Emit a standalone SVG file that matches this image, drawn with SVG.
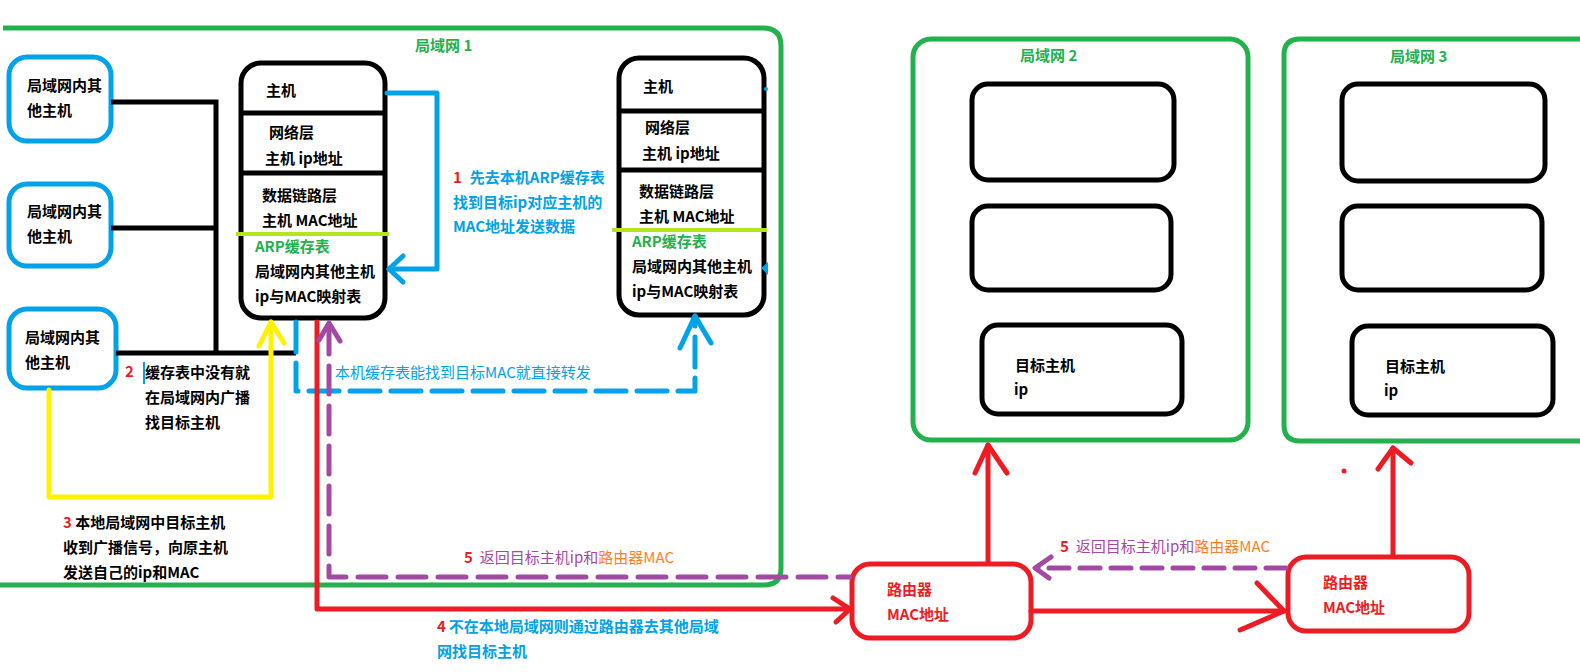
<svg xmlns="http://www.w3.org/2000/svg" width="1580" height="672" viewBox="0 0 1580 672">
<style>
text{font-family:"Noto Sans CJK SC","Microsoft YaHei",sans-serif;font-size:15px;font-weight:bold;fill:#000}
.g{fill:#22b14c}.b{fill:#00a2e8}.r{fill:#ed1c24}.p{fill:#a349a4}.o{fill:#ff7f27}.n{font-weight:normal}
.lan{fill:none;stroke:#22b14c;stroke-width:5}
.bl{fill:#fff;stroke:#000;stroke-width:5}
.blue{fill:#fff;stroke:#00a2e8;stroke-width:5}
.rt{fill:#fff;stroke:#ed1c24;stroke-width:5}
.k{fill:none;stroke:#000;stroke-width:5}
.c{fill:none;stroke-width:5;stroke-linecap:round;stroke-linejoin:round}
</style>
<rect width="1580" height="672" fill="#fff"/>
<g id="lan1">
<path class="lan" d="M3 28 H763 Q781 28 781 46 V568 Q781 585 764 585 H0"/>
<text class="g" x="415" y="51">局域网 1</text>
</g>
<g id="lan2">
<rect class="lan" x="913" y="39" width="335" height="401" rx="18"/>
<text class="g" x="1020" y="61">局域网 2</text>
<rect class="bl" x="972" y="84" width="202" height="96" rx="16"/>
<rect class="bl" x="972" y="206" width="199" height="84" rx="16"/>
<rect class="bl" x="982" y="325" width="200" height="89" rx="16"/>
<text x="1015" y="371">目标主机</text>
<text x="1014" y="395">ip</text>
</g>
<g id="lan3">
<path class="lan" d="M1600 39 H1300 Q1284 39 1284 55 V425 Q1284 441 1300 441 H1600"/>
<text class="g" x="1390" y="62">局域网 3</text>
<rect class="bl" x="1342" y="84" width="203" height="97" rx="16"/>
<rect class="bl" x="1342" y="206" width="200" height="84" rx="16"/>
<rect class="bl" x="1352" y="326" width="201" height="89" rx="16"/>
<text x="1385" y="372">目标主机</text>
<text x="1384" y="396">ip</text>
</g>
<g id="other1">
<rect class="blue" x="9" y="57" width="102" height="84" rx="18"/>
<text x="27" y="91">局域网内其</text>
<text x="27" y="116">他主机</text>
</g>
<g id="other2">
<rect class="blue" x="9" y="184" width="102" height="82" rx="18"/>
<text x="27" y="217">局域网内其</text>
<text x="27" y="242">他主机</text>
</g>
<g id="other3">
<rect class="blue" x="9" y="309" width="107" height="79" rx="18"/>
<text x="25" y="343">局域网内其</text>
<text x="25" y="368">他主机</text>
</g>
<g id="host1">
<rect class="bl" x="241" y="63" width="144" height="255" rx="20"/>
<line class="k" x1="241" y1="113" x2="385" y2="113"/>
<line class="k" x1="241" y1="173" x2="385" y2="173"/>
<line x1="236" y1="234" x2="389" y2="234" stroke="#b5e61d" stroke-width="4"/>
<text x="266" y="96">主机</text>
<text x="269" y="138">网络层</text>
<text x="265" y="164">主机 ip地址</text>
<text x="262" y="201">数据链路层</text>
<text x="262" y="226">主机 MAC地址</text>
<text class="g" x="255" y="252">ARP缓存表</text>
<text x="255" y="277">局域网内其他主机</text>
<text x="255" y="302">ip与MAC映射表</text>
</g>
<g id="host2">
<rect class="bl" x="619" y="58" width="145" height="257" rx="20"/>
<line class="k" x1="619" y1="111" x2="764" y2="111"/>
<line class="k" x1="619" y1="170" x2="764" y2="170"/>
<line x1="612" y1="230" x2="767" y2="230" stroke="#b5e61d" stroke-width="4"/>
<text x="643" y="92">主机</text>
<text x="645" y="133">网络层</text>
<text x="642" y="159">主机 ip地址</text>
<text x="639" y="197">数据链路层</text>
<text x="639" y="222">主机 MAC地址</text>
<text class="g" x="632" y="247">ARP缓存表</text>
<text x="632" y="272">局域网内其他主机</text>
<text x="632" y="297">ip与MAC映射表</text>
<circle cx="766" cy="89" r="2" fill="#00a2e8"/>
<path d="M761 268 L768 262 L768 275 Z" fill="#00a2e8"/>
</g>
<g id="router1">
<rect class="rt" x="852" y="564" width="179" height="74" rx="18"/>
<text class="r" x="887" y="595">路由器</text>
<text class="r" x="887" y="620">MAC地址</text>
</g>
<g id="router2">
<rect class="rt" x="1288" y="557" width="181" height="74" rx="18"/>
<text class="r" x="1323" y="588">路由器</text>
<text class="r" x="1323" y="613">MAC地址</text>
</g>
<g id="connectors">
<!-- LAN bus -->
<polyline class="k" points="111,102 216,102 216,355"/>
<line class="k" x1="111" y1="228" x2="216" y2="228"/>
<line class="k" x1="116" y1="353" x2="296" y2="353"/>
<!-- 1 blue -->
<polyline class="c" stroke="#00a2e8" points="387,93 437,93 437,269 389,269"/>
<polyline class="c" stroke="#00a2e8" points="403,256 389,269 403,282"/>
<!-- 2/3 yellow -->
<polyline class="c" stroke="#fff200" points="49,390 49,497 271,497 271,322"/>
<polyline class="c" stroke="#fff200" points="259,346 271,322 284,343"/>
<!-- blue dashed direct -->
<polyline class="c" stroke="#00a2e8" stroke-dasharray="30 11" stroke-linecap="butt" points="296,322 296,391 695,391 695,316"/>
<polyline class="c" stroke="#00a2e8" points="680,348 695,316 711,343"/>
<!-- 4 red -->
<polyline class="c" stroke="#ed1c24" points="317,322 317,609 850,609"/>
<polyline class="c" stroke="#ed1c24" points="833,598 850,609 836,622"/>
<line class="c" stroke="#ed1c24" x1="1031" y1="611" x2="1284" y2="611"/>
<polyline class="c" stroke="#ed1c24" points="1257,583 1284,611 1240,630"/>
<line class="c" stroke="#ed1c24" x1="988" y1="562" x2="988" y2="445"/>
<polyline class="c" stroke="#ed1c24" points="975,473 988,445 1007,473"/>
<line class="c" stroke="#ed1c24" x1="1393" y1="555" x2="1393" y2="448"/>
<polyline class="c" stroke="#ed1c24" points="1378,469 1393,448 1411,463"/>
<circle cx="1344" cy="471" r="2.5" fill="#ed1c24"/>
<!-- 5 purple -->
<polyline class="c" stroke="#a349a4" stroke-dasharray="28 12" stroke-linecap="butt" points="329,326 329,577 850,577"/>
<polyline class="c" stroke="#a349a4" points="319,340 329,323 340,341"/>
<line class="c" stroke="#a349a4" stroke-dasharray="20 11" stroke-linecap="butt" x1="1286" y1="568" x2="1036" y2="568"/>
<polyline class="c" stroke="#a349a4" points="1051,557 1035,568 1049,578"/>
</g>
<g id="labels">
<text x="453" y="183"><tspan class="r">1</tspan><tspan class="b" dx="8">先去本机ARP缓存表</tspan></text>
<text class="b" x="453" y="208">找到目标ip对应主机的</text>
<text class="b" x="453" y="232">MAC地址发送数据</text>
<text class="r" x="125" y="377">2</text>
<rect x="143" y="362" width="2" height="22" fill="#00a2e8"/>
<text x="145" y="378">缓存表中没有就</text>
<text x="145" y="403">在局域网内广播</text>
<text x="145" y="428">找目标主机</text>
<text x="63" y="528"><tspan class="r">3</tspan> 本地局域网中目标主机</text>
<text x="63" y="553">收到广播信号，向原主机</text>
<text x="63" y="578">发送自己的ip和MAC</text>
<text class="b n" x="335" y="378">本机缓存表能找到目标MAC就直接转发</text>
<text x="464" y="563"><tspan class="r">5</tspan><tspan class="p n" dx="7">返回目标主机ip和</tspan><tspan class="o n">路由器MAC</tspan></text>
<text x="1060" y="552"><tspan class="r">5</tspan><tspan class="p n" dx="7">返回目标主机ip和</tspan><tspan class="o n">路由器MAC</tspan></text>
<text x="437" y="632"><tspan class="r">4</tspan><tspan class="b" dx="3">不在本地局域网则通过路由器去其他局域</tspan></text>
<text class="b" x="437" y="657">网找目标主机</text>
</g>
</svg>
